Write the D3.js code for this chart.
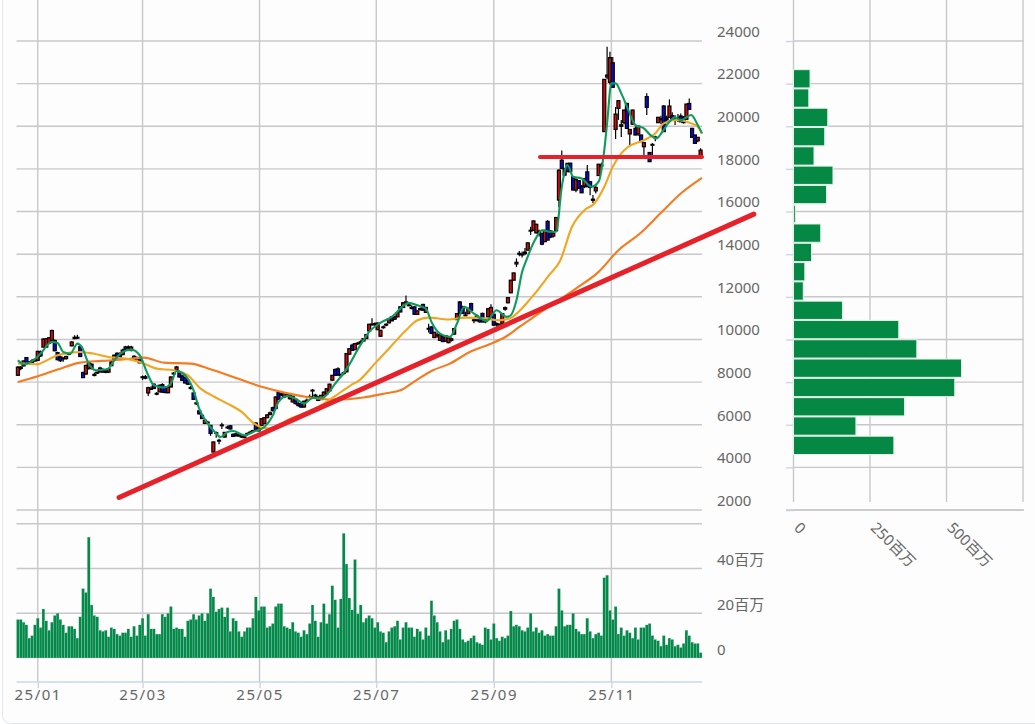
<!DOCTYPE html>
<html>
<head>
<meta charset="utf-8">
<script src="https://cdnjs.cloudflare.com/ajax/libs/d3/7.8.5/d3.min.js"></script>
<style>
  html, body { margin: 0; padding: 0; background: #ffffff; }
  svg { display: block; }
  text { font-family: "Noto Sans", "Noto Sans CJK JP", sans-serif; font-size: 15px; fill: #666666; }
</style>
</head>
<body>
<div id="chart"></div>
<script>
// daily candles, [open, high, low, close]
const candles = [
  [8320,8760,8300,8700],[8640,8760,8560,8700],[8760,9010,8740,8990],[9150,9170,8830,8870],[8880,8990,8840,8950],
  [8930,9080,8910,8990],[8990,9100,8960,9060],[9020,9470,9000,9440],[9420,9480,9180,9230],[9640,10050,9630,10020],
  [9640,10060,9600,10030],[9820,10120,9790,10080],[9960,10450,9950,10420],[9950,10000,9450,9470],[9380,9420,9020,9050],
  [9180,9250,8950,9000],[9090,9170,8960,9130],[9100,9240,9060,9200],[9350,9400,9260,9300],[9700,9910,9680,9880],
  [10040,10200,10010,10100],[10100,10220,10030,10060],[9660,9720,9180,9200],[8450,8490,8190,8210],[8380,8810,8350,8780],
  [8650,8970,8580,8900],[8840,8880,8600,8630],[8360,8450,8270,8310],[8420,8500,8380,8460],[8660,8720,8450,8480],
  [8550,8650,8440,8470],[8460,8570,8420,8520],[8470,8640,8420,8620],[8770,9000,8750,8950],[9020,9300,9000,9260],
  [9350,9400,9050,9080],[9340,9400,9080,9120],[9290,9560,9260,9500],[9650,9700,9480,9520],[9600,9720,9550,9650],
  [9480,9700,9450,9640],[9210,9260,9030,9050],[9120,9200,9030,9150],[9150,9180,8890,8900],[8250,8310,8100,8210],
  [8250,8330,8130,8180],[7490,7780,7350,7740],[7680,7800,7640,7700],[7900,7950,7680,7700],[7460,7530,7380,7470],
  [7540,7880,7530,7850],[7880,7950,7500,7530],[7720,7800,7480,7510],[7500,7800,7480,7770],[7770,8270,7760,8240],
  [8380,8470,8300,8420],[8560,8760,8540,8710],[8450,8560,8220,8240],[8290,8350,8050,8080],[8210,8260,7930,7960],
  [8080,8120,7880,7900],[7750,7820,7650,7700],[7490,7520,7160,7190],[7020,7090,6930,7000],[6650,6690,6480,6510],
  [6440,6480,6270,6290],[6060,6240,6040,6210],[6120,6190,6040,6100],[5970,5990,5480,5590],[4720,5210,4700,5190],
  [5600,5680,5390,5630],[5250,5340,5080,5270],[5990,6090,5800,5960],[5420,5660,5400,5640],[5890,5960,5800,5860],
  [5950,5980,5780,5800],[5550,5590,5430,5450],[5570,5620,5460,5480],[5510,5560,5440,5500],[5440,5510,5380,5460],
  [5400,5510,5380,5430],[5560,5640,5480,5590],[5620,5720,5570,5650],[5700,5760,5640,5720],[6080,6120,5720,5750],
  [5710,5910,5690,5890],[5970,6300,5950,6280],[6050,6350,6030,6330],[6330,6500,6300,6460],[6480,6620,6450,6560],
  [6800,6840,6620,6660],[6760,7320,6740,7300],[7530,7580,7170,7190],[7440,7490,7330,7400],[7300,7500,7270,7460],
  [7430,7480,7300,7340],[7380,7420,7180,7220],[7070,7360,7050,7330],[7190,7240,6950,6990],[6990,7060,6840,6900],
  [6990,7020,6800,6830],[6830,7120,6810,7100],[7120,7230,7080,7150],[7320,7420,7240,7290],[7620,7680,7300,7610],
  [7390,7450,7230,7350],[7310,7350,7110,7140],[7180,7400,7160,7380],[7370,7560,7340,7530],[7460,7720,7440,7690],
  [7590,7930,7570,7900],[8090,8330,8060,8320],[8590,8640,8300,8320],[8620,8700,8300,8330],[8340,8400,8220,8330],
  [8400,8480,8320,8440],[8480,9360,8460,9340],[9310,9580,9290,9570],[9730,9800,9460,9490],[9520,9830,9500,9800],
  [9800,9880,9740,9830],[9850,9960,9800,9890],[9930,10060,9900,10040],[10040,10250,10020,10230],[10400,10740,10380,10710],
  [10720,10990,10660,10690],[10720,10800,10620,10740],[10460,10800,10440,10770],[10150,10440,10130,10430],[10560,10660,10500,10590],
  [10680,10760,10620,10710],[10780,11000,10760,10980],[11060,11090,10860,10870],[10950,11100,10930,11050],[11060,11260,11040,11250],
  [11530,11560,11280,11290],[11500,11740,11480,11720],[11740,12060,11680,11760],[11620,11720,11560,11610],[11500,11600,11420,11450],
  [11530,11560,11170,11180],[11180,11360,11160,11340],[11450,11500,11360,11400],[11640,11680,11360,11370],[11270,11530,11250,11500],
  [10520,10740,10330,10500],[10590,10620,10270,10280],[10090,10350,10070,10340],[10200,10300,10080,10210],[9960,10240,9940,10220],
  [10120,10160,9880,9900],[9920,10200,9900,10180],[9850,10100,9820,10080],[9950,10090,9900,10030],[10250,10520,10230,10510],
  [10930,11230,10910,11210],[11760,11800,11210,11220],[11530,11580,11210,11220],[11150,11300,11100,11130],[11210,11480,11190,11460],
  [11680,11720,11360,11370],[10920,11020,10760,10900],[11100,11180,10850,10880],[10990,11060,10800,10830],[11220,11260,10810,10820],
  [10830,10960,10760,10940],[11060,11460,11040,11440],[11060,11650,11040,11500],[11180,11210,10660,10670],[10750,10800,10600,10720],
  [10700,10750,10560,10640],[10750,11220,10620,11210],[11420,11540,11350,11490],[11720,11980,11700,11960],[12190,12790,12170,12780],
  [12780,13130,12760,13120],[13540,13800,13400,13620],[14040,14150,13900,14000],[14000,14120,13850,13980],[14100,14290,13950,14030],
  [14190,14550,14170,14530],[15120,15290,14900,15080],[15130,15580,15100,15560],[15000,15430,14970,15400],[15080,15150,14830,14950],
  [14970,15010,14420,14470],[14590,15150,14560,15120],[15540,15590,14650,14660],[15090,15130,14750,14800],[14850,15030,14780,14980],
  [15100,15740,15080,15720],[16540,17980,16200,17940],[18410,18860,18010,18020],[17710,18030,17660,18020],[18260,18280,17860,17870],
  [18270,18280,17850,17870],[17630,17650,17000,17010],[17010,17560,16900,17500],[17450,17480,17060,17100],[17190,17250,16870,16880],
  [17190,17560,17100,17550],[17860,18180,17150,17160],[17400,17420,16770,17130],[16580,16780,16400,16530],[16970,17240,16850,17130],
  [17690,18230,17670,18220],[18150,18290,17980,18180],[19750,22210,19730,22200],[22310,23730,22200,22400],[22060,23500,21950,23220],
  [22980,23250,21800,21830],[19850,20900,19400,20570],[20840,21220,20300,21200],[20000,20290,19500,20070],[20170,20770,20100,20760],
  [21070,21100,19870,19900],[19640,19870,19100,19850],[20100,20770,20060,20760],[19900,20000,19580,19590],[19640,20030,19550,20010],
  [19590,19600,19260,19280],[19040,19240,18650,19230],[21390,21550,20530,20890],[18770,18790,18330,18340],[19130,19210,18560,19150],
  [19480,19560,19300,19500],[20170,20430,20150,20420],[20300,20490,20100,20350],[20950,21000,19730,19750],[20400,20500,20150,20300],
  [20420,21260,20400,20950],[20500,20660,20250,20350],[20320,20520,20060,20350],[20380,20580,20200,20370],[20480,20600,20200,20210],
  [20420,20480,20130,20170],[20330,21060,20300,21040],[21070,21300,20780,20790],[19900,19930,19470,19480],[19590,19600,19180,19200],
  [19320,19500,19250,19480],[18570,18970,18540,18880]
];

// daily volume in millions
const volume = [
  17.2,17.2,16,14.8,8.9,10,14.8,17.8,13.6,21.9,16.6,12.4,16,19,20,17.2,14.8,11.3,14.2,14.2,
  13,8.9,18.4,31,29.3,54,23.7,19,18.4,12.4,11.9,12.4,9.5,13.6,13,10.7,10,11.3,11.3,13,
  9.5,14.2,10,14.8,17.8,10,19.6,13,13,10.7,10.7,19.6,18.4,20,23,13,13.6,13,13,9.5,
  16.6,17.2,19.6,17.2,19,20,16.6,20,31,27.3,20.7,21.9,22.5,18.4,22.5,11.9,17.8,16.6,11.9,9.5,
  11.9,13.6,13.6,17.8,27.3,21.3,23,23,13.6,14.2,15.4,23,24.3,24.3,14.2,13.6,13,16,11.9,11.3,
  9.5,12.4,10.7,15.4,23.7,16.6,9.5,16,24.3,15.4,19.6,32.3,26,13.6,26.4,55.7,42,26.8,21.5,44,
  19.7,23.7,16,17.8,19,17.8,13.6,16,11.9,11.3,7.1,11.9,13.6,14.2,16.6,8.3,13.6,16,13.6,13.6,
  9.5,13,11.9,8.3,13.6,10,25.6,19,16,11.9,7.1,12.4,8.3,13,16.6,17.2,13,8.3,7.1,7.7,
  8.9,10,7.1,6.5,5.9,13.6,13,8.3,15.4,8.9,7.7,9.5,8.9,10,21,14.2,14.8,14.2,12.4,11.9,
  13.6,20,11.9,13.6,11.3,12.4,10,10.7,10,10,14.2,31,21.3,14.2,14.8,14.8,20,13,11.9,10.7,
  10.7,17.8,11.9,8.9,10.7,11.3,10,35.9,37,21.3,17.2,23,10.7,13.6,10,12.4,11.3,8.9,13.6,8.3,
  13.6,13.6,14.8,15.4,10,8.3,7.7,5.3,10,5.9,8.9,8.3,5.3,5.9,4.7,6.5,12.4,10,7.1,6.5,
  6.5,2.4
];

// moving averages, [day index, value]
const maShort = [
  [0,9024],[2,8836],[5.5,9024],[8,9337],[12,9885],[14,9838],[16,9415],[18.5,9337],[21,9806],[22.5,9650],
  [25,8867],[27.5,8554],[31.5,8600],[34.5,9100],[37,9415],[40,9525],[43,9259],[45.5,8476],[48,7850],[51.5,7740],
  [54,7929],[56,8523],[59,8320],[62,7615],[64,6755],[67,6051],[69.5,5660],[71.5,5425],[74,5660],[76,5706],
  [80,5500],[83.5,5690],[87,5894],[90,6442],[92,7067],[95,7350],[98,7220],[101,6990],[104,7255],[107.5,7270],
  [112,7929],[116.5,8711],[120.5,9650],[124,10353],[127.5,10745],[132,11060],[138,11715],[141,11605],[144,11450],[146,10823],
  [149,10275],[152.5,10120],[155,10745],[157.5,11527],[161,11215],[165.5,10870],[169,11370],[172.5,11060],[174,11135],[176,11840],
  [178,13170],[179.5,13720],[182.5,14660],[185,15125],[188,15050],[190,15050],[192,17160],[194,18180],[196,17630],[199,17553],
  [202.5,17160],[205,17400],[207,18885],[208,20135],[209.5,22010],[211,22010],[213,21544],[215.5,20760],[218,20057],[221,19900],
  [223.3,19587],[225.5,19430],[227.5,19744],[230,20213],[232,20416],[234,20291],[237.7,20526],[240,20057],[241.5,19665]
];
const maMid = [
  [0,8867],[2.5,8867],[7,8836],[9,8946],[14,9259],[18.5,9384],[22,9415],[26.5,9337],[32,9180],[38,9100],
  [43,8946],[49,8633],[55,8554],[60,8320],[64.5,7694],[69.5,7302],[74,6990],[79,6600],[83.5,6050],[87,5847],
  [91,5816],[95,6207],[100,6473],[106,6833],[111.5,7302],[117.5,7850],[120.5,8084],[126,8866],[131.5,9650],[137,10430],
  [141,10900],[145,11026],[152,10933],[158,11026],[165,10980],[170,10900],[173.5,10980],[181.5,11997],[187.5,13015],[191.5,13718],
  [195.6,15284],[200,16066],[203.5,16380],[207,17160],[210,18100],[213,18727],[215.5,19040],[221,19353],[225,19665],[228,20135],
  [232.5,20291],[237.7,20135],[240,19978],[241.5,19665]
];
const maLong = [
  [0,8007],[7,8273],[14,8586],[22,8914],[29.5,8993],[38,9071],[44.5,9150],[51.5,8914],[61,8867],[68,8601],
  [76,8241],[87,7741],[94,7506],[102,7302],[111.5,7177],[122,7280],[130,7480],[135,7615],[140.6,8084],[146.5,8553],
  [152.5,8866],[159.5,9414],[166.5,9774],[172.5,10150],[177,10588],[183,11136],[190,11762],[197,12388],[205,13170],[212,14188],
  [219.6,14970],[227,15940],[234,16850],[241.5,17584]
];

// hand drawn lines, [day index, price]
const trendLine = [[35.7,2590],[259.8,15880]];
const supportLine = [[184.3,18556],[241.5,18556]];

// volume by price
const profileLows = [4580,5485,6390,7295,8200,9105,10010,10915,11820,12725,13630,14535,15440,16345,17250,18155,19060,19965,20870,21775];
const profileStep = 905;
const profileValues = [328,204,363,527,549,403,344,160,32,37,59,89,6,108,129,67,102,112,50,54];

// axes
const priceTicks = [2000,4000,6000,8000,10000,12000,14000,16000,18000,20000,22000,24000];
const volumeTicks = [0,20,40];
const volumeGrid = [20,40,60];
const monthTicks = [7,44,85.3,126.5,168,209.5];
const monthLabels = ['25/01','25/03','25/05','25/07','25/09','25/11'];
const profileTicks = [0,250,500];
const profileGrid = [0,250,500,750];

const width = 1035, height = 724;
const gridColor = '#c8c8cb', tickColor = '#c9d7e8';

const svg = d3.select('#chart').append('svg')
    .attr('width', width)
    .attr('height', height);

svg.append('rect')
    .attr('x', 2.5).attr('y', -12)
    .attr('width', 1060).attr('height', 735.5)
    .attr('rx', 8)
    .attr('fill', '#fdfdfd')
    .attr('stroke', '#dfe7ef');

// Scales
const x = d3.scaleLinear().domain([-0.5, candles.length - 0.5]).range([16.5, 702]);
const step = x(1) - x(0);
const yPrice = d3.scaleLinear().domain([2000, 24000]).range([510, 41]);
const yVolume = d3.scaleLinear().domain([0, 60]).range([658, 523.7]);
const xProfile = d3.scaleLinear().domain([0, 750]).range([793.5, 1023]);

// Grid
const grid = svg.append('g').attr('stroke', gridColor).attr('stroke-width', 1.4);

grid.selectAll('.price-grid').data(priceTicks).enter().append('line')
    .attr('x1', 16.5).attr('x2', 702)
    .attr('y1', d => yPrice(d)).attr('y2', d => yPrice(d));
grid.selectAll('.volume-grid').data(volumeGrid).enter().append('line')
    .attr('x1', 16.5).attr('x2', 702)
    .attr('y1', d => yVolume(d)).attr('y2', d => yVolume(d));
grid.selectAll('.month-grid').data(monthTicks).enter().append('line')
    .attr('x1', d => x(d)).attr('x2', d => x(d))
    .attr('y1', 0).attr('y2', 682);
grid.selectAll('.profile-h').data(priceTicks).enter().append('line')
    .attr('x1', 793.5).attr('x2', 1023.5)
    .attr('y1', d => yPrice(d)).attr('y2', d => yPrice(d));
grid.selectAll('.profile-v').data(profileGrid).enter().append('line')
    .attr('x1', d => xProfile(d)).attr('x2', d => xProfile(d))
    .attr('y1', 0).attr('y2', 502);

// Axes
const monthAxis = d3.axisBottom(x)
    .tickValues(monthTicks)
    .tickFormat((d, i) => monthLabels[i])
    .tickSize(6);
const monthG = svg.append('g').attr('transform', 'translate(0,682)').call(monthAxis);
monthG.select('.domain').attr('stroke', tickColor).attr('stroke-width', 1.4).attr('d', 'M16.5,0H702');
monthG.selectAll('line').attr('stroke', tickColor).attr('stroke-width', 1.4);
monthG.selectAll('text').attr('y', 7).attr('dy', '0.71em').attr('letter-spacing', 1.5);

const priceAxis = d3.axisRight(yPrice).tickValues(priceTicks).tickFormat(d3.format('d')).tickSize(0);
const priceG = svg.append('g').attr('transform', 'translate(717,-9.5)').call(priceAxis);
priceG.select('.domain').remove();
priceG.selectAll('text').attr('x', 0);

const volumeAxis = d3.axisRight(yVolume).tickValues(volumeTicks).tickFormat(d => d === 0 ? '0' : d + '百万').tickSize(0);
const volumeG = svg.append('g').attr('transform', 'translate(717,-8.5)').call(volumeAxis);
volumeG.select('.domain').remove();
volumeG.selectAll('text').attr('x', 0);

const stubAxis = d3.axisLeft(yPrice).tickValues(priceTicks).tickFormat('').tickSize(7.5);
const stubG = svg.append('g').attr('transform', 'translate(793.5,0)').call(stubAxis);
stubG.select('.domain').remove();
stubG.selectAll('line').attr('stroke', tickColor).attr('stroke-width', 1.4);

const profileAxis = d3.axisBottom(xProfile).tickValues(profileTicks).tickFormat(d => d === 0 ? '0' : d + '百万').tickSize(0);
const profileG = svg.append('g').attr('transform', 'translate(0,510)').call(profileAxis);
profileG.select('.domain').attr('stroke', gridColor).attr('stroke-width', 1.4).attr('d', 'M786,0H1024');
profileG.selectAll('text')
    .attr('x', 0).attr('y', 0).attr('dy', '0.35em')
    .attr('text-anchor', 'start')
    .attr('transform', 'translate(3,15) rotate(45)');

// Candles
const candle = svg.append('g').selectAll('g').data(candles).enter().append('g');

candle.append('line')
    .attr('x1', (d, i) => x(i)).attr('x2', (d, i) => x(i))
    .attr('y1', d => yPrice(d[1])).attr('y2', d => yPrice(d[2]))
    .attr('stroke', '#000000').attr('stroke-width', 1.2);

candle.append('rect')
    .attr('x', (d, i) => x(i) - 1.5)
    .attr('width', 3)
    .attr('y', d => yPrice(Math.max(d[0], d[3])))
    .attr('height', d => Math.max(0.8, Math.abs(yPrice(d[0]) - yPrice(d[3]))))
    .attr('fill', d => d[3] >= d[0] ? '#d40b0b' : '#0a0ad2')
    .attr('stroke', '#000000').attr('stroke-width', 1.2);

// Moving averages
const maLine = d3.line()
    .x(d => x(d[0]))
    .y(d => yPrice(d[1]))
    .curve(d3.curveMonotoneX);

[[maLong, '#f47b20'], [maMid, '#f0a71f'], [maShort, '#0d9b5c']].forEach(([points, color]) => {
    svg.append('path')
        .attr('d', maLine(points))
        .attr('fill', 'none')
        .attr('stroke', color)
        .attr('stroke-width', 2.1);
});

// Volume bars
svg.append('g').selectAll('rect').data(volume).enter().append('rect')
    .attr('x', (d, i) => x(i) - step / 2)
    .attr('width', step)
    .attr('y', d => yVolume(d))
    .attr('height', d => yVolume(0) - yVolume(d))
    .attr('fill', '#05894a')
    .attr('stroke', '#bfe3cf')
    .attr('stroke-width', 0.2);

// Volume by price
svg.append('g').selectAll('rect').data(profileValues).enter().append('rect')
    .attr('x', xProfile(0))
    .attr('width', d => xProfile(d) - xProfile(0))
    .attr('y', (d, i) => yPrice(profileLows[i] + profileStep) + 0.5)
    .attr('height', (d, i) => yPrice(profileLows[i]) - yPrice(profileLows[i] + profileStep) - 1)
    .attr('fill', '#058843')
    .attr('stroke', '#e4f3ea')
    .attr('stroke-width', 1);

// Hand drawn lines on top
const rawLine = d3.line().x(d => x(d[0])).y(d => yPrice(d[1]));

svg.append('path')
    .attr('d', rawLine(trendLine))
    .attr('fill', 'none')
    .attr('stroke', '#e6212a')
    .attr('stroke-width', 5)
    .attr('stroke-linecap', 'round');

svg.append('path')
    .attr('d', rawLine(supportLine))
    .attr('fill', 'none')
    .attr('stroke', '#e6212a')
    .attr('stroke-width', 4)
    .attr('stroke-linecap', 'round');
</script>
</body>
</html>
